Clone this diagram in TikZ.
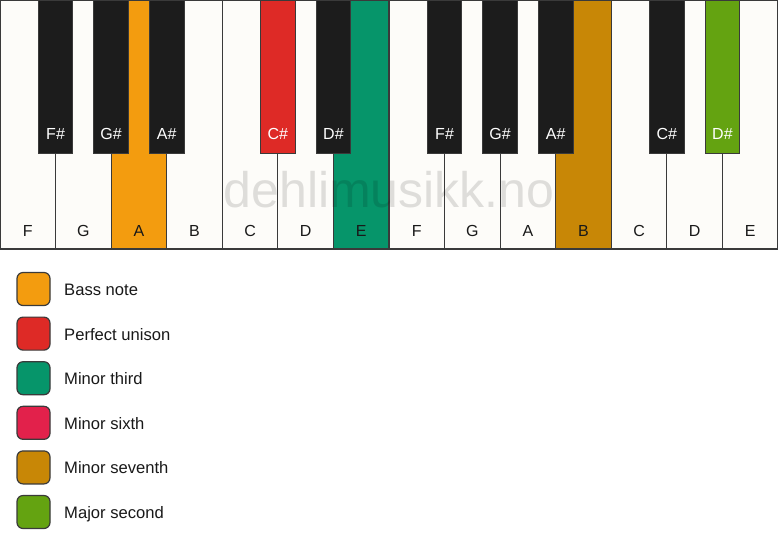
\documentclass[tikz,border=0pt]{standalone}
\usepackage{fontspec}
\setmainfont{Liberation Sans}
\definecolor{keywhite}{HTML}{FDFCF9}
\definecolor{keyblack}{HTML}{1C1C1C}
\definecolor{keyline}{HTML}{3A3A3A}
\definecolor{bass}{HTML}{F39C0F}
\definecolor{unison}{HTML}{DE2A26}
\definecolor{mthird}{HTML}{06956A}
\definecolor{msixth}{HTML}{E2214B}
\definecolor{mseventh}{HTML}{C88706}
\definecolor{msecond}{HTML}{64A311}
\begin{document}
\begin{tikzpicture}[x=1pt,y=-1pt,
  wkey/.style={rectangle, draw=keyline, line width=1.2pt, minimum width=55.571pt, minimum height=249pt, inner sep=0pt, outer sep=0pt},
  bkey/.style={rectangle, draw=keyline, line width=1pt, minimum width=34.6pt, minimum height=153pt, inner sep=0pt, outer sep=0pt},
  lbl/.style={font=\fontsize{16}{19}\selectfont, inner sep=0pt, anchor=base},
  swatch/.style={rectangle, rounded corners=6pt, draw=keyline, line width=1.2pt, minimum width=33pt, minimum height=33pt, inner sep=0pt},
  legtext/.style={font=\fontsize{16.6}{19}\selectfont, text=black!90, inner sep=0pt, anchor=base west}]
\useasboundingbox (0,0) rectangle (778,550);
\fill[white] (0,0) rectangle (778,550);
% white keys
\foreach \i/\n/\c in {0/F/keywhite,1/G/keywhite,2/A/bass,3/B/keywhite,4/C/keywhite,5/D/keywhite,6/E/mthird,7/F/keywhite,8/G/keywhite,9/A/keywhite,10/B/mseventh,11/C/keywhite,12/D/keywhite,13/E/keywhite}{
  \node[wkey, fill=\c] (w\i) at ({(\i+0.5)*55.571},124.5) {};
  \node[lbl, text=black!90] (wl\i) at ({(\i+0.5)*55.571},236) {\n};
}
% watermark
\node[anchor=base, inner sep=0pt, font=\fontsize{50}{50}\selectfont, text=black, text opacity=0.12] (wm) at (389,207) {dehlimusikk.no};
% black keys
\foreach \k/\n/\c in {1/F\#/keyblack,2/G\#/keyblack,3/A\#/keyblack,5/C\#/unison,6/D\#/keyblack,8/F\#/keyblack,9/G\#/keyblack,10/A\#/keyblack,12/C\#/keyblack,13/D\#/msecond}{
  \node[bkey, fill=\c] (b\k) at ({\k*55.571},76.5) {};
  \node[lbl, text=white] (bl\k) at ({\k*55.571},139) {\n};
}
% legend
\foreach \j/\c/\t in {0/bass/Bass note,1/unison/Perfect unison,2/mthird/Minor third,3/msixth/Minor sixth,4/mseventh/Minor seventh,5/msecond/Major second}{
  \node[swatch, fill=\c] (s\j) at (33.5,{289+\j*44.6}) {};
  \node[legtext] (t\j) at (64,{295.5+\j*44.6}) {\t};
}
\end{tikzpicture}
\end{document}
